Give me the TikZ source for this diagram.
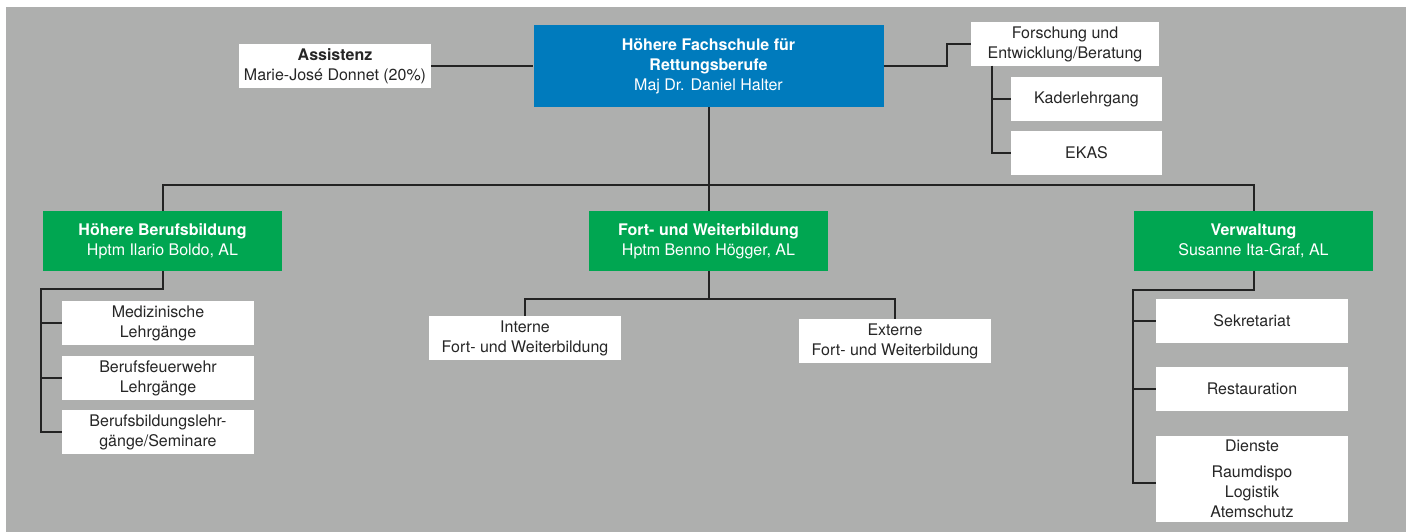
\documentclass[tikz,border=0pt]{standalone}
\usepackage{fontspec}
\setmainfont{TeX Gyre Heros}
\usepackage{tikz}
\usepackage{xcolor}
\definecolor{chartgrey}{RGB}{174,175,174}
\definecolor{headblue}{RGB}{0,123,189}
\definecolor{deptgreen}{RGB}{0,166,81}
\definecolor{linedark}{RGB}{35,35,35}

\begin{document}
\begin{tikzpicture}[
    x=1pt, y=-1pt,
    unit/.style={fill=white, inner sep=0pt, minimum width=192pt, minimum height=44pt, align=center, text=black!85},
    dept/.style={fill=deptgreen, text=white, inner sep=0pt, minimum width=239pt, minimum height=60pt, align=center},
    head/.style={fill=headblue, text=white, inner sep=0pt, minimum width=350pt, minimum height=82pt, align=center},
    link/.style={draw=linedark, line width=2pt},
    font=\fontsize{16}{20}\selectfont
]
\useasboundingbox (0,0) rectangle (1411,532);
\fill[chartgrey] (6,7) rectangle (1406,532);

% top
\node[head] (hfr) at (708.5,66) {\textbf{Höhere Fachschule für}\\\textbf{Rettungsberufe}\\Maj Dr. Daniel Halter};
\node[unit] (assist) at (335,66) {\textbf{Assistenz}\\Marie-José Donnet (20\%)};
\node[unit, minimum width=188pt] (forsch) at (1065,44) {Forschung und\\Entwicklung/Beratung};
\node[unit, minimum width=151pt] (kader) at (1086.5,99) {Kaderlehrgang};
\node[unit, minimum width=151pt] (ekas) at (1086.5,153) {EKAS};

\draw[link] (assist) -- (hfr);
\draw[link] (hfr.east) -- ++(63,0) |- (forsch.west);
\coordinate (fstem) at (992,66);
\draw[link] (fstem) |- (kader.west);
\draw[link] (fstem) |- (ekas.west);

% departments
\node[dept] (hbb) at (162.5,241) {\textbf{Höhere Berufsbildung}\\Hptm Ilario Boldo, AL};
\node[dept] (fwb) at (708.5,241) {\textbf{Fort- und Weiterbildung}\\Hptm Benno Högger, AL};
\node[dept] (verw) at (1253.5,241) {\textbf{Verwaltung}\\Susanne Ita-Graf, AL};

\coordinate (bus) at (708.5,185);
\draw[link] (hfr.south) -- (fwb.north);
\draw[link] (hbb.north) |- (bus) -| (verw.north);

% left column
\node[unit] (med) at (158,323) {Medizinische\\Lehrgänge};
\node[unit] (bfw) at (158,378) {Berufsfeuerwehr\\Lehrgänge};
\node[unit] (bbl) at (158,432) {Berufsbildungslehr-\\gänge/Seminare};

\coordinate (lstem) at (41,289);
\draw[link] (hbb.south) |- (lstem) |- (bbl.west);
\draw[link] (lstem) |- (med.west);
\draw[link] (lstem) |- (bfw.west);

% middle
\node[unit] (intern) at (525,338) {Interne\\Fort- und Weiterbildung};
\node[unit] (extern) at (895,341) {Externe\\Fort- und Weiterbildung};

\coordinate (mjoin) at (708.5,299);
\draw[link] (fwb.south) -- (mjoin);
\draw[link] (intern.north) |- (mjoin) -| (extern.north);

% right column
\node[unit] (sekr) at (1252,321) {Sekretariat};
\node[unit] (rest) at (1252,389) {Restauration};
\node[unit, minimum height=86pt] (dienst) at (1252,479) {Dienste\\[6pt]Raumdispo\\Logistik\\Atemschutz};

\coordinate (rstem) at (1133,290);
\draw[link] (verw.south) |- (rstem) |- (sekr.west);
\draw[link] (rstem) |- (rest.west);
\draw[link] (rstem) |- ([yshift=-4pt]dienst.west);
\end{tikzpicture}
\end{document}
